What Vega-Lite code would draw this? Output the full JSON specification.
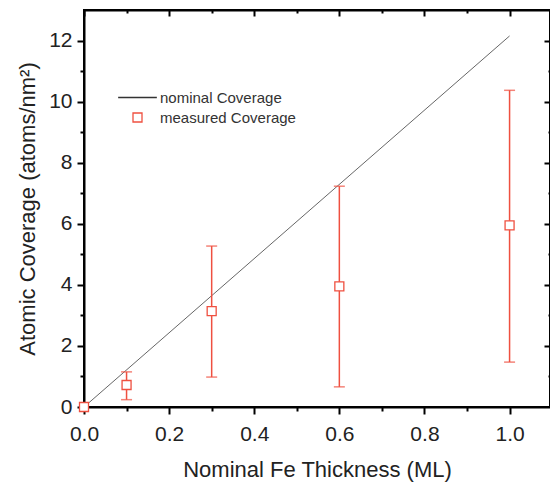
{
  "$schema": "https://vega.github.io/schema/vega-lite/v6.json",
  "width": 466,
  "height": 397,
  "autosize": {"type": "none"},
  "padding": {"left": 84, "top": 10, "right": 0, "bottom": 78},
  "background": "white",
  "config": {
    "view": {"stroke": "black", "strokeWidth": 2},
    "font": "Liberation Sans",
    "axis": {
      "grid": false,
      "domainColor": "black",
      "domainWidth": 2,
      "tickColor": "black",
      "tickWidth": 2,
      "labelColor": "#222",
      "labelFontSize": 21,
      "titleColor": "#222",
      "titleFontSize": 22,
      "titleFontWeight": "normal",
      "labelOverlap": false,
      "labelFlush": false
    }
  },
  "datasets": {
    "nominal": [
      {"thickness": 0.0, "coverage": 0.0},
      {"thickness": 1.0, "coverage": 12.15}
    ],
    "measured": [
      {"thickness": 0.0, "coverage": 0.0, "series": "measured Coverage"},
      {"thickness": 0.1, "coverage": 0.72, "lo": 0.24, "hi": 1.15, "series": "measured Coverage"},
      {"thickness": 0.3, "coverage": 3.14, "lo": 0.98, "hi": 5.27, "series": "measured Coverage"},
      {"thickness": 0.6, "coverage": 3.95, "lo": 0.66, "hi": 7.23, "series": "measured Coverage"},
      {"thickness": 1.0, "coverage": 5.95, "lo": 1.47, "hi": 10.37, "series": "measured Coverage"}
    ]
  },
  "layer": [
    {
      "data": {"name": "nominal"},
      "mark": {"type": "line", "color": "#666666", "strokeWidth": 1, "clip": false},
      "encoding": {
        "x": {
          "field": "thickness", "type": "quantitative",
          "scale": {"domain": [0, 1.095], "nice": false, "zero": false},
          "axis": {
            "orient": "bottom",
            "values": [0, 0.1, 0.2, 0.3, 0.4, 0.5, 0.6, 0.7, 0.8, 0.9, 1.0],
            "labelExpr": "round(datum.value*10)%2==0 ? format(datum.value,'.1f') : ''",
            "tickSize": {"condition": {"test": "round(datum.value*10)%2==0", "value": 7}, "value": 4},
            "labelPadding": 9,
            "title": "Nominal Fe Thickness (ML)",
            "titleFontWeight": "normal",
            "titlePadding": 15
          }
        },
        "y": {
          "field": "coverage", "type": "quantitative",
          "scale": {"domain": [0, 13], "nice": false, "zero": false},
          "axis": {
            "orient": "left",
            "values": [0, 1, 2, 3, 4, 5, 6, 7, 8, 9, 10, 11, 12],
            "labelExpr": "datum.value%2==0 ? format(datum.value,'d') : ''",
            "tickSize": {"condition": {"test": "datum.value%2==0", "value": 7}, "value": 4},
            "labelPadding": 5,
            "title": "Atomic Coverage (atoms/nm²)",
            "titleFontWeight": "normal",
            "titlePadding": 9
          }
        }
      }
    },
    {
      "data": {"name": "measured"},
      "mark": {"type": "rule", "color": "#ef5040", "strokeWidth": 1.5},
      "encoding": {
        "x": {
          "field": "thickness", "type": "quantitative",
          "axis": {
            "orient": "top",
            "values": [0, 0.1, 0.2, 0.3, 0.4, 0.5, 0.6, 0.7, 0.8, 0.9, 1.0],
            "labels": false,
            "tickSize": {"condition": {"test": "round(datum.value*10)%2==0", "value": -6}, "value": -3},
            "title": null
          }
        },
        "y": {
          "field": "lo", "type": "quantitative",
          "axis": {
            "orient": "right",
            "values": [1, 2, 3, 4, 5, 6, 7, 8, 9, 10, 11, 12],
            "labels": false,
            "tickSize": {"condition": {"test": "datum.value%2==0", "value": -6}, "value": -2},
            "title": null
          }
        },
        "y2": {"field": "hi"}
      }
    },
    {
      "data": {"name": "measured"},
      "mark": {"type": "tick", "orient": "horizontal", "color": "#ef5040", "thickness": 1.5, "size": 11},
      "encoding": {
        "x": {"field": "thickness", "type": "quantitative", "axis": null},
        "y": {"field": "lo", "type": "quantitative", "axis": null}
      }
    },
    {
      "data": {"name": "measured"},
      "mark": {"type": "tick", "orient": "horizontal", "color": "#ef5040", "thickness": 1.5, "size": 11},
      "encoding": {
        "x": {"field": "thickness", "type": "quantitative", "axis": null},
        "y": {"field": "hi", "type": "quantitative", "axis": null}
      }
    },
    {
      "data": {"name": "measured"},
      "mark": {"type": "point", "filled": false, "fill": "white", "fillOpacity": 1, "strokeWidth": 1.3, "size": 81, "opacity": 1, "clip": false},
      "encoding": {
        "x": {"field": "thickness", "type": "quantitative", "axis": null},
        "y": {"field": "coverage", "type": "quantitative", "axis": null},
        "color": {
          "field": "series", "type": "nominal",
          "scale": {"domain": ["nominal Coverage", "measured Coverage"], "range": ["#333333", "#ef5040"]},
          "legend": {
            "orient": "none",
            "legendX": 46,
            "legendY": 80,
            "title": null,
            "padding": 0,
            "rowPadding": 4,
            "labelFontSize": 15,
            "labelColor": "#333",
            "labelOffset": 15,
            "symbolSize": 81,
            "symbolStrokeWidth": 1.3,
            "symbolFillColor": "transparent"
          }
        },
        "shape": {
          "field": "series", "type": "nominal",
          "scale": {"domain": ["nominal Coverage", "measured Coverage"], "range": ["M-4.3,0H4.3", "square"]}
        }
      }
    }
  ],
  "resolve": {"axis": {"x": "independent", "y": "independent"}}
}
